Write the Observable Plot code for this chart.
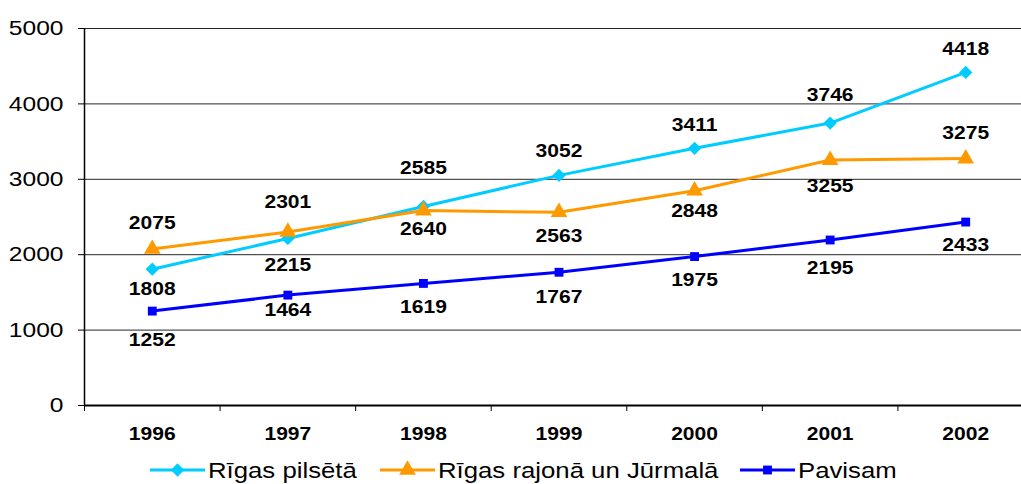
<!DOCTYPE html>
<html>
<head>
<meta charset="utf-8">
<script src="https://cdn.jsdelivr.net/npm/d3@7"></script>
<script src="https://cdn.jsdelivr.net/npm/@observablehq/plot@0.6"></script>
<style>
  html, body { margin: 0; padding: 0; background: #fff; overflow: hidden; }
  body { width: 1021px; height: 484px; position: relative; font-family: "Liberation Sans", Arial, sans-serif; }
  #legend { position: absolute; left: 0; top: 455px; width: 1021px; height: 29px; }
  .item { position: absolute; top: 0; height: 29px; display: flex; align-items: center; }
  .item span { font-size: 22px; display: inline-block; transform: scaleX(1.17); transform-origin: left center; margin-left: 3px; line-height: 29px; position: relative; top: 1px; }
</style>
</head>
<body>
<div id="chart"></div>
<div id="legend"></div>
<script>
const years = [1996, 1997, 1998, 1999, 2000, 2001, 2002];
const seriesNames = ["Rīgas pilsētā", "Rīgas rajonā un Jūrmalā", "Pavisam"];
const rigasPilseta = [1808, 2215, 2640, 3052, 3411, 3746, 4418];
const rigasRajona = [2075, 2301, 2585, 2563, 2848, 3255, 3275];
const pavisam = [1252, 1464, 1619, 1767, 1975, 2195, 2433];
const yTicks = [0, 1000, 2000, 3000, 4000, 5000];

// label placement (pixel offset of each value label from its point)
const dyPilseta = [20, 27, 23, -24, -23, -28, -23];
const dyRajona = [-26, -30, -42, 24, 20, 26, -25];
const dyPavisam = [29, 15, 24, 25, 24, 28, 23];

const colors = ["#00CCFF", "#FF9900", "#0000FF"];
const symbols = ["diamond2", "triangle", "square"];
const radii = [6, 6.2, 5];

const valuesBySeries = [rigasPilseta, rigasRajona, pavisam];
const dyBySeries = [dyPilseta, dyRajona, dyPavisam];

const rows = [];
seriesNames.forEach((name, s) => {
  years.forEach((yr, i) => {
    rows.push({series: name, s, year: yr, value: valuesBySeries[s][i], dy: dyBySeries[s][i]});
  });
});

const separators = years.map(y => y - 0.5);

const marks = [
  Plot.gridY(yTicks.filter(d => d > 0), {stroke: "#000", strokeOpacity: 0.85, strokeWidth: 1}),
  Plot.axisY({ticks: yTicks, tickSize: 6, tickPadding: 15, tickFormat: d => String(d), fontSize: 21, fill: "#000", label: null}),
  Plot.axisX({ticks: separators, tickSize: 6, tickFormat: () => "", stroke: "#000", label: null}),
  Plot.axisX({ticks: years, tickSize: 0, tickPadding: 22, tickFormat: d => String(d), fontSize: 18, fontWeight: "bold", label: null}),
  Plot.ruleY([0], {stroke: "#000", strokeWidth: 2}),
  Plot.ruleX([1995.5], {stroke: "#000", strokeWidth: 1.5})
];

seriesNames.forEach((name, s) => {
  const data = rows.filter(d => d.s === s);
  marks.push(Plot.line(data, {x: "year", y: "value", stroke: colors[s], strokeWidth: 3}));
  marks.push(Plot.dot(data, {x: "year", y: "value", symbol: () => symbols[s], r: radii[s], fill: colors[s], stroke: "none"}));
});

seriesNames.forEach((name, s) => {
  const data = rows.filter(d => d.s === s);
  data.forEach(d => {
    marks.push(Plot.text([d], {x: "year", y: "value", text: d => String(d.value), dy: d.dy, fontSize: 18, fontWeight: "bold", fill: "#000"}));
  });
});

const chart = Plot.plot({
  width: 1021,
  height: 455,
  marginLeft: 84,
  marginRight: 0,
  marginTop: 28,
  marginBottom: 50,
  style: {fontFamily: "'Liberation Sans', Arial, sans-serif", background: "#fff", color: "#000"},
  x: {type: "linear", domain: [1995.5, 2002.5], range: [84, 1033], label: null},
  y: {domain: [0, 5000], range: [405, 28], label: null},
  marks
});
document.getElementById("chart").appendChild(chart);

// widen text horizontally to match the reference's stretched lettering
chart.querySelectorAll("text").forEach(t => {
  const tr = t.getAttribute("transform") || "";
  t.setAttribute("transform", tr + " scale(1.17,1)");
});

// legend
const legend = document.getElementById("legend");
const lefts = [150, 380, 740];
seriesNames.forEach((name, s) => {
  const item = document.createElement("div");
  item.className = "item";
  item.style.left = lefts[s] + "px";
  const sw = d3.create("svg").attr("width", 55).attr("height", 29);
  sw.append("line").attr("x1", 0).attr("x2", 55).attr("y1", 15).attr("y2", 15).attr("stroke", colors[s]).attr("stroke-width", 3);
  const sym = {diamond2: d3.symbolDiamond2, triangle: d3.symbolTriangle, square: d3.symbolSquare}[symbols[s]];
  const area = Math.PI * radii[s] * radii[s];
  sw.append("path").attr("d", d3.symbol(sym, area)()).attr("transform", "translate(27.5,15)").attr("fill", colors[s]);
  item.appendChild(sw.node());
  const span = document.createElement("span");
  span.textContent = name;
  item.appendChild(span);
  legend.appendChild(item);
});
</script>
</body>
</html>
